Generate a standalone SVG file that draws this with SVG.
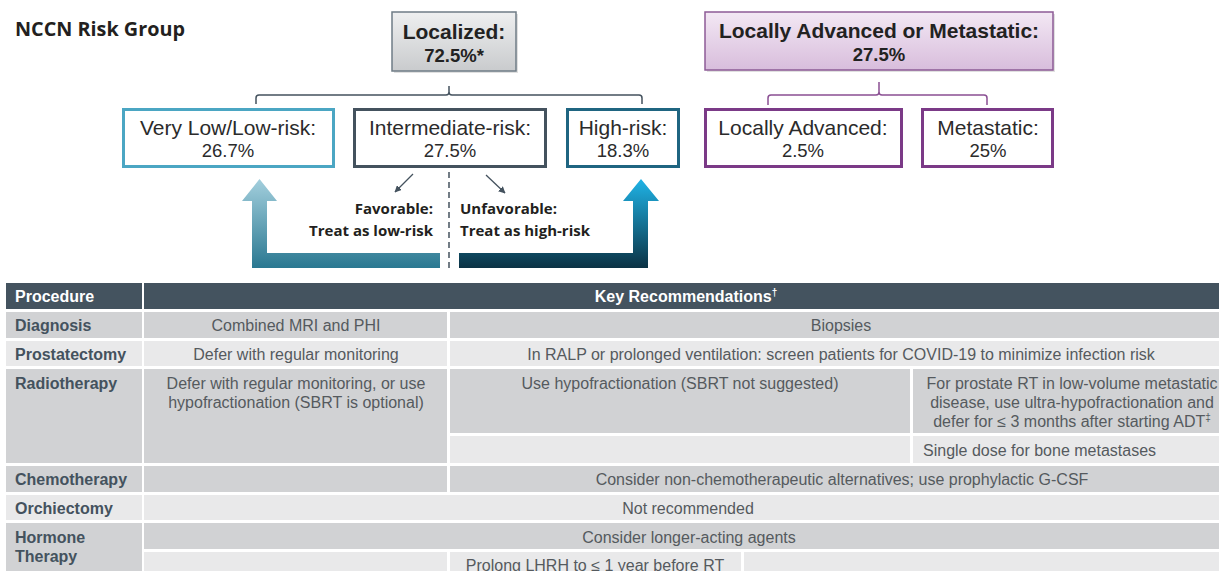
<svg xmlns="http://www.w3.org/2000/svg" width="1219" height="571" viewBox="0 0 1219 571">
<style>
.title{font-family:"Open Sans","Liberation Sans",sans-serif;font-weight:700;fill:#231f20}
.lbl{font-family:"Open Sans","Liberation Sans",sans-serif;font-weight:700;font-size:15px;fill:#231f20}
.tb1{font-family:"Liberation Sans",Arial,sans-serif;font-weight:700;font-size:21px;fill:#222;text-anchor:middle}
.tb2{font-family:"Liberation Sans",Arial,sans-serif;font-weight:700;font-size:18.5px;fill:#222;text-anchor:middle}
.bx1{font-family:"Liberation Sans",Arial,sans-serif;font-size:21px;fill:#2b2b2b;text-anchor:middle}
.bx2{font-family:"Liberation Sans",Arial,sans-serif;font-size:18.5px;fill:#2b2b2b;text-anchor:middle}
.box{fill:#fff;stroke-width:3}
.hdr{fill:#44535f}
.g{fill:#d1d2d4}
.l{fill:#e9e9ea}
.ht{font-family:"Liberation Sans",Arial,sans-serif;font-weight:700;font-size:16px;fill:#fff}
.ct{font-family:"Liberation Sans",Arial,sans-serif;font-weight:700;font-size:16px;fill:#44525e}
.tx{font-family:"Liberation Sans",Arial,sans-serif;font-size:16px;fill:#555a5e;text-anchor:middle}
.txs{font-family:"Liberation Sans",Arial,sans-serif;font-size:16px;fill:#555a5e}
.brk{fill:none;stroke-width:1.5}
</style>
<defs>
<linearGradient id="gGray" x1="0" y1="0" x2="0" y2="1"><stop offset="0" stop-color="#eeeff0"/><stop offset="1" stop-color="#c9cbcd"/></linearGradient>
<linearGradient id="gPurp" x1="0" y1="0" x2="0" y2="1"><stop offset="0" stop-color="#f3e8f4"/><stop offset="1" stop-color="#d8bddc"/></linearGradient>
<linearGradient id="gLeft" gradientUnits="userSpaceOnUse" x1="0" y1="179" x2="0" y2="268"><stop offset="0" stop-color="#a3cfdd"/><stop offset="1" stop-color="#2a7891"/></linearGradient>
<linearGradient id="gRight" gradientUnits="userSpaceOnUse" x1="0" y1="179" x2="0" y2="268"><stop offset="0" stop-color="#1fb3e6"/><stop offset="1" stop-color="#0b3244"/></linearGradient>
<marker id="ah" viewBox="0 0 10 10" refX="9" refY="5" markerWidth="7" markerHeight="7" orient="auto" markerUnits="userSpaceOnUse"><path d="M0,0 L10,5 L0,10 Z" fill="#44525e"/></marker>
</defs>
<rect width="1219" height="571" fill="#fff"/>

<text class="title" x="15" y="36" font-size="19.8">NCCN Risk Group</text>

<g id="localized">
<rect x="394" y="14" width="124" height="59" fill="#000" opacity="0.12"/>
<rect x="392" y="12" width="124" height="59" fill="url(#gGray)" stroke="#6f7c86" stroke-width="1.5"/>
<text class="tb1" x="454" y="39">Localized:</text>
<text class="tb2" x="454" y="62">72.5%*</text>
</g>

<g id="advanced">
<rect x="707" y="14" width="348" height="58" fill="#000" opacity="0.12"/>
<rect x="705" y="12" width="348" height="58" fill="url(#gPurp)" stroke="#8d5b96" stroke-width="1.5"/>
<text class="tb1" x="879" y="38">Locally Advanced or Metastatic:</text>
<text class="tb2" x="879" y="61">27.5%</text>
</g>

<g id="lowrisk">
<rect class="box" x="123.5" y="109.5" width="210" height="57" stroke="#4ba6c3"/>
<text class="bx1" x="228" y="135">Very Low/Low-risk:</text>
<text class="bx2" x="228" y="157">26.7%</text>
</g>
<g id="intermediate">
<rect class="box" x="354.5" y="109.5" width="191" height="57" stroke="#44525e"/>
<text class="bx1" x="450" y="135">Intermediate-risk:</text>
<text class="bx2" x="450" y="157">27.5%</text>
</g>
<g id="highrisk">
<rect class="box" x="567.5" y="109.5" width="111" height="57" stroke="#1f6581"/>
<text class="bx1" x="623" y="135">High-risk:</text>
<text class="bx2" x="623" y="157">18.3%</text>
</g>
<g id="locallyadvanced">
<rect class="box" x="705.5" y="109.5" width="196" height="57" stroke="#7b3a87"/>
<text class="bx1" x="803" y="135">Locally Advanced:</text>
<text class="bx2" x="803" y="157">2.5%</text>
</g>
<g id="metastatic">
<rect class="box" x="922.5" y="109.5" width="130" height="57" stroke="#7b3a87"/>
<text class="bx1" x="988" y="135">Metastatic:</text>
<text class="bx2" x="988" y="157">25%</text>
</g>

<g id="connectors">
<path class="brk" stroke="#44525e" d="M256,104 V98 Q256,95 259,95 H446 Q449,95 449,92 V86 M449,92 Q449,95 452,95 H639 Q642,95 642,98 V104"/>
<path class="brk" stroke="#8a4f93" d="M768,105 V98 Q768,95 771,95 H876 Q879,95 879,92 V82 M879,92 Q879,95 882,95 H984 Q987,95 987,98 V105"/>
<line x1="449" y1="172" x2="449" y2="268" stroke="#44525e" stroke-width="1.5" stroke-dasharray="6,4"/>
<line x1="413" y1="174" x2="395" y2="192" stroke="#44525e" stroke-width="1.3" marker-end="url(#ah)"/>
<line x1="486" y1="175" x2="505" y2="193" stroke="#44525e" stroke-width="1.3" marker-end="url(#ah)"/>
<path d="M440,253 H267 V201 H277 L259.5,179 L242,201 H252 V268 H440 Z" fill="url(#gLeft)"/>
<path d="M459,253 H633 V201 H623 L641,179 L659,201 H648 V268 H459 Z" fill="url(#gRight)"/>
</g>

<text class="lbl" x="433" y="214" text-anchor="end">Favorable:</text>
<text class="lbl" x="433" y="236" text-anchor="end">Treat as low-risk</text>
<text class="lbl" x="460" y="214">Unfavorable:</text>
<text class="lbl" x="460" y="236">Treat as high-risk</text>

<g id="table">
<rect class="hdr" x="6" y="283" width="136" height="26"/>
<rect class="hdr" x="144" y="283" width="1075" height="26"/>
<text class="ht" x="15" y="302">Procedure</text>
<text class="ht" x="686" y="302" text-anchor="middle">Key Recommendations<tspan font-size="10" dy="-6">†</tspan></text>

<rect class="g" x="6" y="312" width="136" height="26"/>
<rect class="g" x="144" y="312" width="303" height="26"/>
<rect class="g" x="450" y="312" width="769" height="26"/>
<text class="ct" x="15" y="331">Diagnosis</text>
<text class="tx" x="296" y="331">Combined MRI and PHI</text>
<text class="tx" x="841" y="331">Biopsies</text>

<rect class="l" x="6" y="341" width="136" height="25"/>
<rect class="l" x="144" y="341" width="303" height="25"/>
<rect class="l" x="450" y="341" width="769" height="25"/>
<text class="ct" x="15" y="360">Prostatectomy</text>
<text class="tx" x="296" y="360">Defer with regular monitoring</text>
<text class="tx" x="841" y="360">In RALP or prolonged ventilation: screen patients for COVID-19 to minimize infection risk</text>

<rect class="g" x="6" y="369" width="136" height="94"/>
<rect class="g" x="144" y="369" width="303" height="94"/>
<rect class="g" x="450" y="369" width="460" height="64"/>
<rect class="g" x="913" y="369" width="306" height="64"/>
<rect class="l" x="450" y="436" width="460" height="27"/>
<rect class="l" x="913" y="436" width="306" height="27"/>
<text class="ct" x="15" y="389">Radiotherapy</text>
<text class="tx" x="296" y="389">Defer with regular monitoring, or use</text>
<text class="tx" x="296" y="408">hypofractionation (SBRT is optional)</text>
<text class="tx" x="680" y="389">Use hypofractionation (SBRT not suggested)</text>
<text class="tx" x="1072" y="389">For prostate RT in low-volume metastatic</text>
<text class="tx" x="1072" y="408">disease, use ultra-hypofractionation and</text>
<text class="tx" x="1072" y="427">defer for ≤ 3 months after starting ADT<tspan font-size="10" dy="-6">‡</tspan></text>
<text class="txs" x="923" y="456">Single dose for bone metastases</text>

<rect class="g" x="6" y="466" width="136" height="26"/>
<rect class="g" x="144" y="466" width="303" height="26"/>
<rect class="g" x="450" y="466" width="769" height="26"/>
<text class="ct" x="15" y="485">Chemotherapy</text>
<text class="tx" x="842" y="485">Consider non-chemotherapeutic alternatives; use prophylactic G-CSF</text>

<rect class="l" x="6" y="495" width="136" height="25"/>
<rect class="l" x="144" y="495" width="1075" height="25"/>
<text class="ct" x="15" y="514">Orchiectomy</text>
<text class="tx" x="688" y="514">Not recommended</text>

<rect class="g" x="6" y="523" width="136" height="48"/>
<rect class="g" x="144" y="523" width="1075" height="26"/>
<rect class="l" x="144" y="552" width="303" height="19"/>
<rect class="l" x="450" y="552" width="291" height="19"/>
<rect class="l" x="744" y="552" width="475" height="19"/>
<text class="ct" x="15" y="543">Hormone</text>
<text class="ct" x="15" y="562">Therapy</text>
<text class="tx" x="689" y="543">Consider longer-acting agents</text>
<text class="tx" x="595" y="571">Prolong LHRH to ≤ 1 year before RT</text>
</g>
</svg>
